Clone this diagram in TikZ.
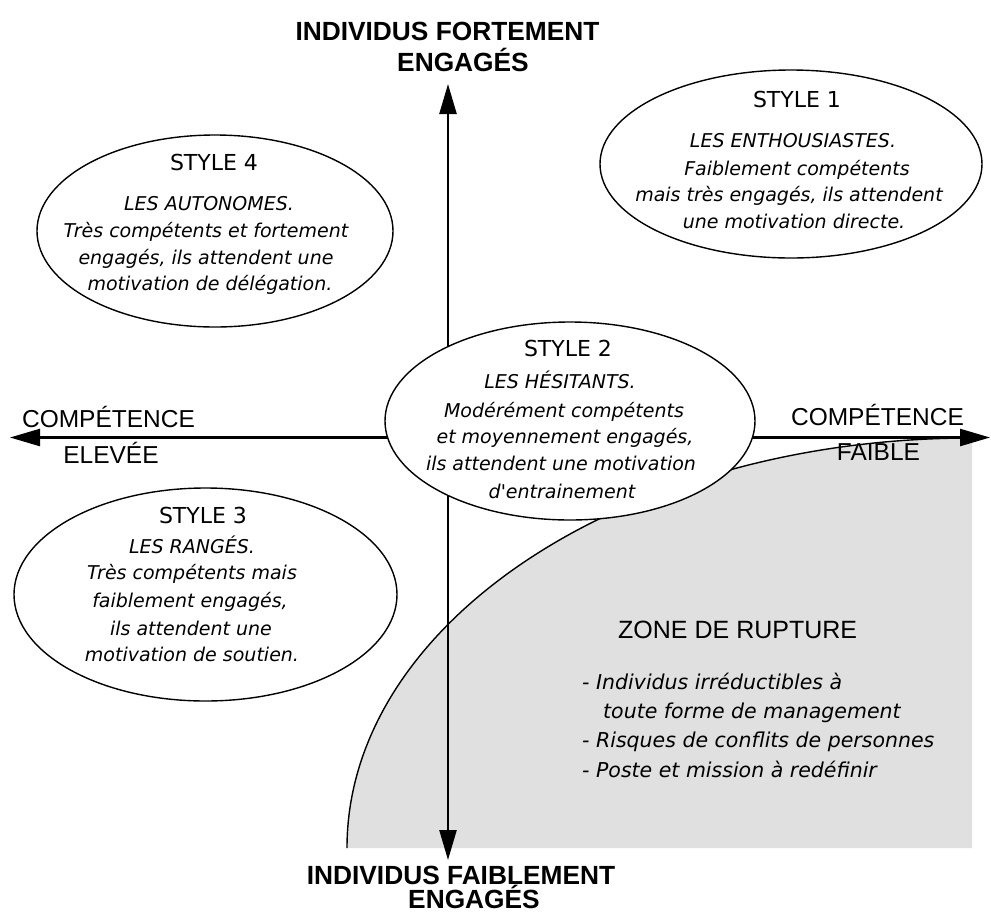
\documentclass[tikz,border=0pt]{standalone}
\usepackage{fontspec}
\setmainfont{DejaVu Sans}
\newfontfamily\lib{Liberation Sans}
\usetikzlibrary{shapes.geometric,arrows.meta}
\definecolor{zonegray}{RGB}{224,224,224}
\begin{document}
\begin{tikzpicture}[x=1pt,y=-1pt,
  axis/.style={line width=2.4pt,{Triangle[length=30pt,width=17pt]}-{Triangle[length=30pt,width=17pt]}},
  bubble/.style={ellipse,draw,line width=1.4pt,fill=white,inner sep=0pt,outer sep=0pt},
  head/.style={anchor=base,inner sep=0pt,font=\fontsize{22}{22}\selectfont},
  body/.style={anchor=base,inner sep=0pt,font=\fontsize{19}{19}\selectfont\itshape},
  title/.style={anchor=base,inner sep=0pt,font=\lib\bfseries\fontsize{26.3}{26.3}\selectfont},
  axlabel/.style={anchor=base,inner sep=0pt,font=\lib\fontsize{24.5}{24.5}\selectfont},
  zonetitle/.style={anchor=base west,inner sep=0pt,font=\lib\fontsize{25}{25}\selectfont},
  bulletline/.style={anchor=base west,inner sep=0pt,font=\fontsize{20.5}{20.5}\selectfont\itshape},
  curveline/.style={line width=1.4pt}
]
\useasboundingbox (0,0) rectangle (991,914);
\fill[white] (0,0) rectangle (991,914);

% zone de rupture
\coordinate (zs) at (347,848);
\coordinate (ze) at (972,438);
\coordinate (zc) at (972,848);
\fill[zonegray] (zs) .. controls (347,621.6) and (626.8,438) .. (ze) -- (zc) -- cycle;

% axis labels
\node[title] (tt1) at (447.5,40) {INDIVIDUS FORTEMENT};
\node[title] (tt2) at (463,71) {ENGAGÉS};
\node[title] (bt1) at (461,884) {INDIVIDUS FAIBLEMENT};
\node[title] (bt2) at (474,908) {ENGAGÉS};
\node[axlabel] (lc1) at (108.5,427) {COMPÉTENCE};
\node[axlabel] (lc2) at (111,463) {ELEVÉE};
\node[axlabel] (rc1) at (877.5,425) {COMPÉTENCE};
\node[axlabel] (rc2) at (878.5,460) {FAIBLE};

% zone text
\node[zonetitle] (zt) at (618,638) {ZONE DE RUPTURE};
\node[bulletline] (zb1) at (582,689) {- Individus irréductibles à};
\node[bulletline] (zb2) at (603,718) {toute forme de management};
\node[bulletline] (zb3) at (582,747) {- Risques de conflits de personnes};
\node[bulletline] (zb4) at (582,777) {- Poste et mission à redéfinir};

% curve
\draw[curveline] (zs) .. controls (347,621.6) and (626.8,438) .. (ze);

% axes
\coordinate (atop) at (448,84);
\coordinate (abot) at (448,860);
\coordinate (aleft) at (10,437.5);
\coordinate (aright) at (990,437.5);
\draw[axis] (abot) -- (atop);
\draw[axis] (aleft) -- (aright);

% ellipses
\node[bubble,minimum width=356pt,minimum height=192pt] (e4) at (215,231) {};
\node[bubble,minimum width=382pt,minimum height=188pt] (e1) at (791,164) {};
\node[bubble,minimum width=370pt,minimum height=198pt] (e2) at (570,421) {};
\node[bubble,minimum width=383pt,minimum height=213pt] (e3) at (205.5,594.5) {};

% style 4
\node[head] (s4h) at (214,170) {STYLE 4};
\node[body] (s4a) at (209,210) {LES AUTONOMES.};
\node[body] (s4b) at (206,237) {Très compétents et fortement};
\node[body] (s4c) at (206,264) {engagés, ils attendent une};
\node[body] (s4d) at (210,290) {motivation de délégation.};

% style 1
\node[head] (s1h) at (797,107) {STYLE 1};
\node[body] (s1a) at (793,147) {LES ENTHOUSIASTES.};
\node[body] (s1b) at (797,175) {Faiblement compétents};
\node[body] (s1c) at (789,201) {mais très engagés, ils attendent};
\node[body] (s1d) at (794,228) {une motivation directe.};

% style 2
\node[head] (s2h) at (568,356) {STYLE 2};
\node[body] (s2a) at (560,388) {LES HÉSITANTS.};
\node[body] (s2b) at (564,417) {Modérément compétents};
\node[body] (s2c) at (565,443) {et moyennement engagés,};
\node[body] (s2d) at (561,470) {ils attendent une motivation};
\node[body] (s2e) at (562,498) {d\textquotesingle entrainement};

% style 3
\node[head] (s3h) at (203,523) {STYLE 3};
\node[body] (s3a) at (192,553) {LES RANGÉS.};
\node[body] (s3b) at (192,579) {Très compétents mais};
\node[body] (s3c) at (190,607) {faiblement engagés,};
\node[body] (s3d) at (191,635) {ils attendent une};
\node[body] (s3e) at (192,661) {motivation de soutien.};
\end{tikzpicture}
\end{document}
